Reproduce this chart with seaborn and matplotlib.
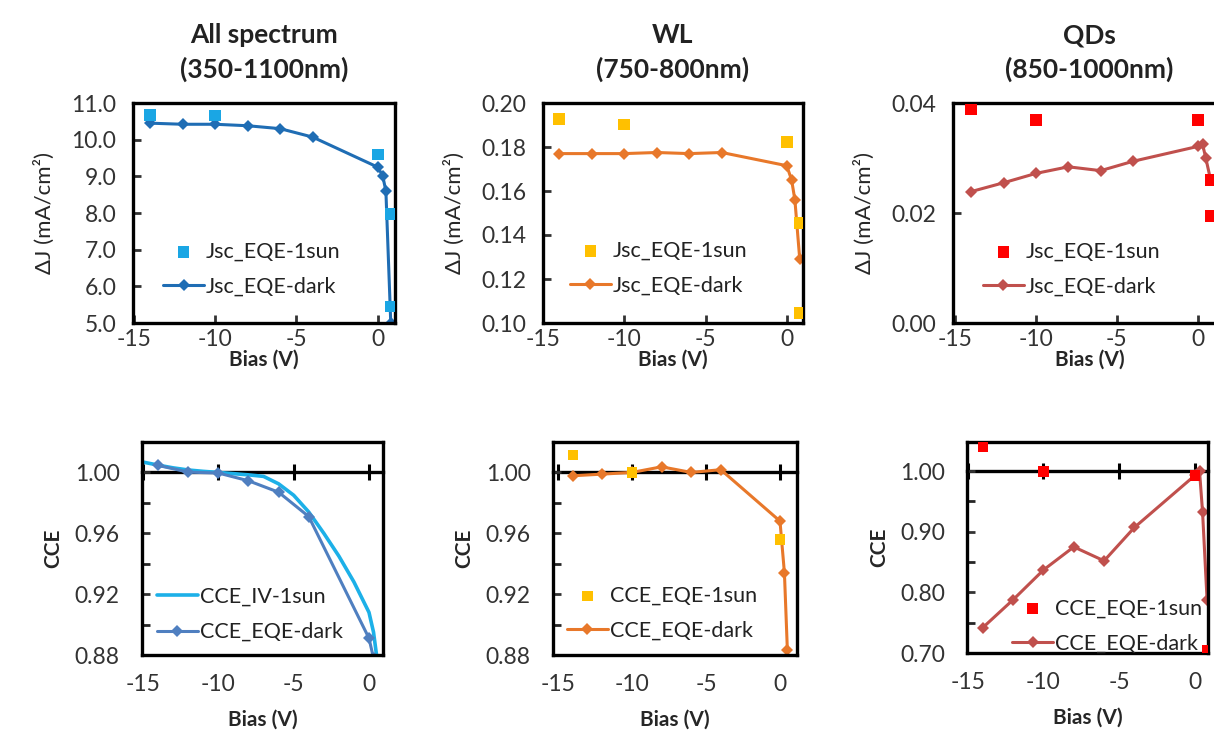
import numpy as np
import seaborn as sns
import pandas as pd
import matplotlib.pyplot as plt
from matplotlib.ticker import MultipleLocator

sns.set_style("white")
plt.rcParams['font.family'] = ['Lato', 'DejaVu Sans']
plt.rcParams['axes.unicode_minus'] = False
plt.rcParams['text.color'] = '#222222'

# ---- data ----
bias_dark = [-14, -12, -10, -8, -6, -4, 0, 0.3, 0.5, 0.8]
bias_sun = [-14, -10, 0, 0.8, 0.8]

# top row: delta J (mA/cm2)
dj_all_dark = [10.45, 10.42, 10.42, 10.38, 10.30, 10.07, 9.25, 9.02, 8.60, 5.00]
dj_all_sun = [10.67, 10.66, 9.60, 7.97, 5.45]
dj_wl_dark = [0.177, 0.177, 0.177, 0.1775, 0.177, 0.1775, 0.1715, 0.165, 0.156, 0.129]
dj_wl_sun = [0.1928, 0.1903, 0.1823, 0.1454, 0.1046]
dj_qd_dark = [0.0239, 0.0255, 0.0272, 0.0284, 0.0277, 0.0294, 0.0321, 0.0325, 0.0300, 0.0260]
dj_qd_sun = [0.0388, 0.0369, 0.0369, 0.0260, 0.0195]

# bottom row: CCE
bias_iv = [-15, -14, -13, -12, -11, -10, -9, -8, -7, -6, -5, -4, -3, -2, -1, 0, 0.3, 0.5]
cce_iv_sun = [1.0068, 1.0048, 1.0030, 1.0016, 1.0007, 1.0000, 0.9992, 0.9984, 0.9974,
              0.9925, 0.9850, 0.9740, 0.9600, 0.9450, 0.9280, 0.9080, 0.8950, 0.8800]
cce_all_dark = [1.0046, 1.0002, 0.9996, 0.9945, 0.9870, 0.9710, 0.8910, 0.8780, 0.8400, 0.7000]
cce_wl_dark = [0.9978, 0.9989, 1.0000, 1.0037, 1.0000, 1.0018, 0.9680, 0.9340, 0.8830, 0.7300]
cce_wl_sun = [1.0116, 1.0000, 0.9560, 0.7640, 0.5500]
cce_qd_dark = [0.742, 0.788, 0.837, 0.875, 0.852, 0.907, 0.993, 1.000, 0.933, 0.787]
cce_qd_sun = [1.040, 0.999, 0.993, 0.704, 0.530]

titles = ["All spectrum\n(350-1100nm)", "WL\n(750-800nm)", "QDs\n(850-1000nm)"]

blue_sun, blue_dark = '#1aa6e4', '#1f6db4'
iv_col, steel = '#1cb0e8', '#4f7fc0'
gold, orange = '#ffc000', '#e8782a'
red, brick = '#ff0000', '#c0504d'

fig = plt.figure(figsize=(12.14, 7.35), dpi=100)
W, H = 1214, 735


def add_ax(x0, x1, y0, y1):
    return fig.add_axes([x0 / W, 1 - y1 / H, (x1 - x0) / W, (y1 - y0) / H])


def style(ax, xlim, ylim, top=True):
    ax.set_xlim(*xlim)
    ax.set_ylim(*ylim)
    for s in ax.spines.values():
        s.set_visible(True)
        s.set_color('black')
        s.set_linewidth(2.4)
    ax.set_xticks([-15, -10, -5, 0])
    ax.tick_params(labelsize=16.5, colors='#333333')
    ax.tick_params(axis='y', pad=12 if top else 16)
    ax.tick_params(axis='x', pad=4 if top else 14)
    ax.set_xlabel("Bias (V)", fontsize=15, fontweight='bold',
                  labelpad=0 if top else 10)


def leg(ax, x, y):
    ax.legend(loc='center left', bbox_to_anchor=(x, y), frameon=False, fontsize=15.5,
              borderpad=0, borderaxespad=0, handlelength=1.9, handletextpad=0.1,
              labelspacing=0.7)


def draw_top(ax, ydark, ysun, csun, cdark):
    sns.scatterplot(x=bias_sun, y=ysun, ax=ax, marker='s', s=70, color=csun,
                    edgecolor='none', label='Jsc_EQE-1sun', zorder=3, clip_on=True)
    sns.lineplot(x=bias_dark, y=ydark, ax=ax, color=cdark, marker='D', markersize=6,
                 markeredgewidth=0, linewidth=2.2, sort=False, label='Jsc_EQE-dark')


def cross_axis(ax, ylim):
    frac = (1.0 - ylim[0]) / (ylim[1] - ylim[0])
    sec = ax.secondary_xaxis(frac)
    sec.set_xticks([-15, -10, -5, 0])
    sec.tick_params(direction='inout', length=11, width=2.2, labeltop=False,
                    labelbottom=False, color='black')
    for s in sec.spines.values():
        s.set_linewidth(2.4)
        s.set_color('black')
    ax.tick_params(axis='x', length=0)


# ---------- top row ----------
ax1 = add_ax(133, 395, 103, 323)
draw_top(ax1, dj_all_dark, dj_all_sun, blue_sun, blue_dark)
style(ax1, (-15.05, 1.06), (5.0, 11.0))
ax1.yaxis.set_major_locator(MultipleLocator(1.0))
ax1.yaxis.set_major_formatter('{x:.1f}')
leg(ax1, 0.115, 0.245)

ax2 = add_ax(543, 803, 103, 323)
draw_top(ax2, dj_wl_dark, dj_wl_sun, gold, orange)
style(ax2, (-14.92, 1.0), (0.10, 0.20))
ax2.yaxis.set_major_locator(MultipleLocator(0.02))
ax2.yaxis.set_major_formatter('{x:.2f}')
leg(ax2, 0.104, 0.248)

# right edge of this panel runs past the picture
ax3 = add_ax(953, 1226, 103, 323)
draw_top(ax3, dj_qd_dark, dj_qd_sun, red, brick)
style(ax3, (-15.13, 1.75), (0.0, 0.04))
ax3.yaxis.set_major_locator(MultipleLocator(0.02))
ax3.yaxis.set_major_formatter('{x:.2f}')
leg(ax3, 0.11, 0.245)

for ax in (ax1, ax2, ax3):
    ax.tick_params(direction='in', length=6, width=2, left=True, bottom=True)
    ax.set_ylabel("ΔJ (mA/cm²)", fontsize=16, labelpad=12)

for ax, t in zip((ax1, ax2, ax3), titles):
    ax.set_title(t, fontsize=19, fontweight='bold', pad=18, linespacing=1.45)

# ---------- bottom row ----------
ax4 = add_ax(142, 383, 442, 655)
sns.lineplot(x=bias_iv, y=cce_iv_sun, ax=ax4, color=iv_col, linewidth=2.6,
             sort=False, label='CCE_IV-1sun')
sns.lineplot(x=bias_dark, y=cce_all_dark, ax=ax4, color=steel, marker='D', markersize=6,
             markeredgewidth=0, linewidth=2.2, sort=False, label='CCE_EQE-dark')
style(ax4, (-15.07, 0.93), (0.88, 1.02), top=False)
leg(ax4, 0.062, 0.19)

ax5 = add_ax(553, 797, 442, 655)
sns.scatterplot(x=bias_sun, y=cce_wl_sun, ax=ax5, marker='s', s=55, color=gold,
                edgecolor='none', label='CCE_EQE-1sun', zorder=3)
sns.lineplot(x=bias_dark, y=cce_wl_dark, ax=ax5, color=orange, marker='D', markersize=6,
             markeredgewidth=0, linewidth=2.2, sort=False, label='CCE_EQE-dark')
style(ax5, (-15.34, 1.15), (0.88, 1.02), top=False)
leg(ax5, 0.057, 0.197)

ax6 = add_ax(967, 1208, 442, 653)
sns.scatterplot(x=bias_sun, y=cce_qd_sun, ax=ax6, marker='s', s=60, color=red,
                edgecolor='none', label='CCE_EQE-1sun', zorder=3)
sns.lineplot(x=bias_dark, y=cce_qd_dark, ax=ax6, color=brick, marker='D', markersize=6,
             markeredgewidth=0, linewidth=2.2, sort=False, label='CCE_EQE-dark')
style(ax6, (-15.05, 0.86), (0.70, 1.048), top=False)
leg(ax6, 0.187, 0.128)

for ax, step in ((ax4, 0.04), (ax5, 0.04), (ax6, 0.10)):
    ax.yaxis.set_major_locator(MultipleLocator(step))
    ax.yaxis.set_minor_locator(MultipleLocator(step / 2))
    ax.yaxis.set_major_formatter('{x:.2f}')
    ax.tick_params(axis='y', which='both', direction='in', length=6, width=2, left=True)
    ax.set_ylabel("CCE", fontsize=15, fontweight='bold', labelpad=8)
    cross_axis(ax, ax.get_ylim())

fig.savefig("out.png", dpi=100)
